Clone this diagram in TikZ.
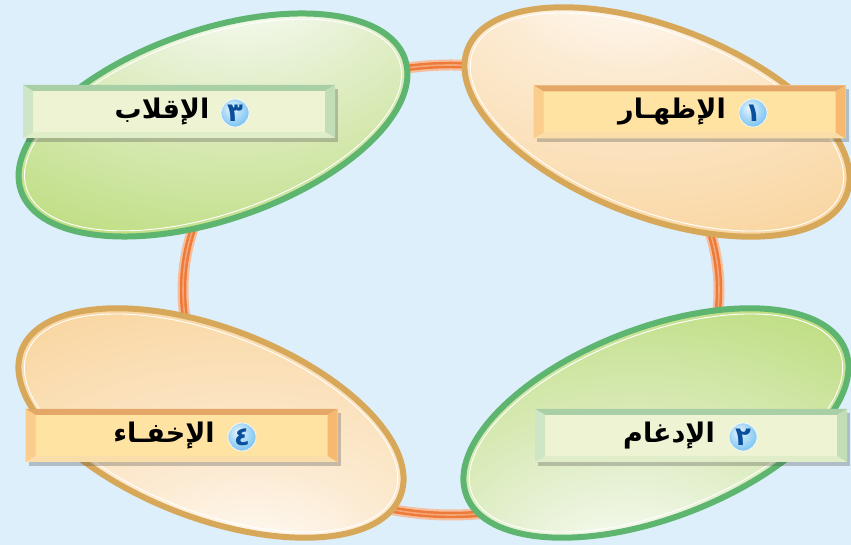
\documentclass[tikz,border=0pt]{standalone}
\usepackage{fontspec}
\newfontfamily\arabicfont[Script=Arabic]{DejaVu Sans}
\TeXXeTstate=1
\usetikzlibrary{shapes.geometric,shadows}

\definecolor{bg}{HTML}{DCEFFB}
\definecolor{oA}{HTML}{FCEBD3}
\definecolor{oB}{HTML}{F9D49C}
\definecolor{oC}{HTML}{F1AA4E}
\definecolor{gA}{HTML}{E4F0CF}
\definecolor{gB}{HTML}{BEDD80}
\definecolor{gC}{HTML}{94C63A}
\definecolor{rimO}{HTML}{D8A85A}
\definecolor{rimG}{HTML}{5DB56F}
\definecolor{ringC}{HTML}{EE7A3A}
\definecolor{ringG}{HTML}{F6BE9C}
\definecolor{ringL}{HTML}{F6A576}
\definecolor{bA}{HTML}{E8F6FE}
\definecolor{bB}{HTML}{8CCBF3}
\definecolor{bC}{HTML}{3F9BE0}
\definecolor{navy}{HTML}{0B4F9C}
% orange label box
\definecolor{ofc}{HTML}{FEE3A2}
\definecolor{otp}{HTML}{E5A768}
\definecolor{obt}{HTML}{FADEAA}
\definecolor{olf}{HTML}{FACD8C}
\definecolor{org}{HTML}{F7B870}
% green label box
\definecolor{gfc}{HTML}{EEF4D3}
\definecolor{gtp}{HTML}{A9CFA6}
\definecolor{gbt}{HTML}{E0EDC9}
\definecolor{glf}{HTML}{CFE6C6}
\definecolor{grt}{HTML}{C2DEB9}

\pgfdeclareradialshading{shOtop}{\pgfpoint{-4bp}{32bp}}{color(0bp)=(white); color(16bp)=(oA); color(45bp)=(oB); color(80bp)=(oC)}
\pgfdeclareradialshading{shObot}{\pgfpoint{6bp}{-32bp}}{color(0bp)=(white); color(16bp)=(oA); color(45bp)=(oB); color(80bp)=(oC)}
\pgfdeclareradialshading{shGtop}{\pgfpoint{4bp}{32bp}}{color(0bp)=(white); color(16bp)=(gA); color(42bp)=(gB); color(75bp)=(gC)}
\pgfdeclareradialshading{shGbot}{\pgfpoint{-4bp}{-32bp}}{color(0bp)=(white); color(16bp)=(gA); color(42bp)=(gB); color(75bp)=(gC)}
\pgfdeclareradialshading{shBadge}{\pgfpoint{-8bp}{10bp}}{color(0bp)=(bA); color(25bp)=(bB); color(50bp)=(bC)}

\tikzset{
  blob/.style={ellipse, minimum width=406pt, minimum height=190pt, inner sep=0pt, outer sep=0pt, line width=6pt},
  boxnode/.style={rectangle, minimum width=312pt, minimum height=53pt, inner sep=0pt, outer sep=0pt,
     drop shadow={shadow xshift=3pt, shadow yshift=-4pt, opacity=.3, fill=black!70}},
  badge/.style={circle, minimum size=28pt, inner sep=0pt, shading=shBadge, draw=white, line width=.6pt,
     text=navy, font=\arabicfont\bfseries\fontsize{26}{26}\selectfont},
  word/.style={anchor=center, inner sep=0pt, text=black, font=\arabicfont\bfseries\fontsize{27}{31}\selectfont},
  innerline/.style={draw=white, line width=.9pt},
}

\newcommand\bevelbox[7]{%
  \node[boxnode, fill=#3] (#1) at #2 {};
  \fill[#4] (#1.north west) -- (#1.north east) -- ([shift={(-10pt,-6pt)}]#1.north east) -- ([shift={(10pt,-6pt)}]#1.north west) -- cycle;
  \fill[#5] (#1.south west) -- (#1.south east) -- ([shift={(-10pt,6pt)}]#1.south east) -- ([shift={(10pt,6pt)}]#1.south west) -- cycle;
  \fill[#6] (#1.north west) -- ([shift={(10pt,-6pt)}]#1.north west) -- ([shift={(10pt,6pt)}]#1.south west) -- (#1.south west) -- cycle;
  \fill[#7] (#1.north east) -- ([shift={(-10pt,-6pt)}]#1.north east) -- ([shift={(-10pt,6pt)}]#1.south east) -- (#1.south east) -- cycle;
}

\begin{document}
\begin{tikzpicture}[x=1pt,y=1pt]
\useasboundingbox (0,0) rectangle (851,545);
\fill[bg] (0,0) rectangle (851,545);

% orange ring behind the ellipses
\node[ellipse, minimum width=536pt, minimum height=450pt, inner sep=0pt,
      draw=ringC, line width=6.5pt,
      preaction={draw=ringG, line width=11pt},
      postaction={draw=ringL, line width=1.6pt}] (ring) at (451,255) {};

% four ellipses
\node[blob, draw=rimO, shading=shOtop, rotate=-21] (e1) at (657,423) {};
\node[blob, draw=rimG, shading=shGtop, rotate=19] (e3) at (213,420) {};
\node[blob, draw=rimO, shading=shObot, rotate=-21] (e4) at (211,122) {};
\node[blob, draw=rimG, shading=shGbot, rotate=21] (e2) at (656,122) {};
\foreach \e/\r in {e1/-21, e3/19, e4/-21, e2/21}
  \draw[innerline, rotate around={\r:(\e.center)}] (\e.center) ellipse [x radius=197, y radius=89];

% label boxes
\bevelbox{l1}{(689.5,433)}{ofc}{otp}{obt}{olf}{org}
\bevelbox{l3}{(179,433.5)}{gfc}{gtp}{gbt}{glf}{grt}
\bevelbox{l4}{(181.5,109.5)}{ofc}{otp}{obt}{olf}{org}
\bevelbox{l2}{(691,109.5)}{gfc}{gtp}{gbt}{glf}{grt}

% words, then badges
\node[word] (w1) at (l1.center -| 672,0) {\beginR الإظهـار\endR};
\node[word] (w3) at (l3.center -| 162,0) {\beginR الإقلاب\endR};
\node[word] (w4) at (l4.center -| 164,0) {\beginR الإخفـاء\endR};
\node[word] (w2) at (l2.center -| 669,0) {\beginR الإدغام\endR};
\node[badge] (b1) at (753,432) {١};
\node[badge] (b3) at (235,432) {٣};
\node[badge] (b4) at (242,108) {٤};
\node[badge] (b2) at (743,108) {٢};
\end{tikzpicture}
\end{document}
